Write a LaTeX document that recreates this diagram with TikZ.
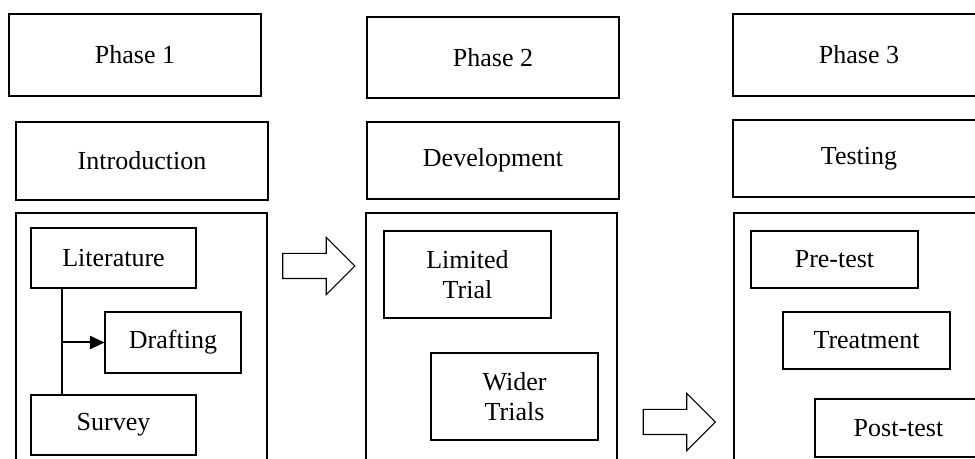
\documentclass[tikz,border=0pt]{standalone}
\usepackage{fontspec}
\setmainfont{Liberation Serif}
\usetikzlibrary{shapes.arrows,arrows.meta}

\begin{document}
\begin{tikzpicture}[x=0.75pt, y=-0.75pt,
every node/.style={font=\fontsize{19.5}{23}\selectfont},
box/.style={draw, line width=0.8pt, inner sep=0pt, align=center},
sz/.style 2 args={minimum width=#1*0.75pt, minimum height=#2*0.75pt},
blockarrow/.style={draw, line width=0.8pt, single arrow, inner xsep=0pt, inner ysep=9pt,
  single arrow head extend=12pt, minimum height=54pt}]
\useasboundingbox (0,0) rectangle (975,459);
% phase headers
\node[box, sz={252}{82}] (phaseA) at (135,55) {Phase 1};
\node[box, sz={252}{81}] (phaseB) at (493,57.5) {Phase 2};
\node[box, sz={252}{82}] (phaseC) at (859,55) {Phase 3};
\node[box, sz={252}{78}] (intro) at (142,161) {Introduction};
\node[box, sz={252}{77}] (devel) at (493,160.5) {Development};
\node[box, sz={252}{77}] (testing) at (859,158.5) {Testing};
% frames
\node[box, sz={251}{257}] (frameA) at (141.5,341.5) {};
\node[box, sz={251}{257}] (frameB) at (491.5,341.5) {};
\node[box, sz={251}{257}] (frameC) at (859.5,341.5) {};
% phase 1
\node[box, sz={165}{60}] (lit) at (113.5,258) {Literature};
\node[box, sz={136}{61}] (draft) at (173,342.5) {Drafting};
\node[box, sz={165}{60}] (survey) at (113.5,425) {Survey};
\coordinate (trunk) at (62,342.5);
\draw[line width=1.5pt] (lit.south -| trunk) -- (survey.north -| trunk);
\draw[line width=1.5pt, -{Triangle[length=11pt,width=10pt]}] (trunk) -- (draft.west);
% phase 2
\node[box, sz={167}{87}] (limited) at (467.5,274.5) {Limited\\Trial};
\node[box, sz={167}{87}] (wider) at (514.5,396.5) {Wider\\Trials};
% phase 3
\node[box, sz={167}{57}] (pre) at (834.5,259.5) {Pre-test};
\node[box, sz={167}{57}] (treat) at (866.5,340.5) {Treatment};
\node[box, sz={167}{58}] (post) at (898.5,428) {Post-test};
% block arrows
\node[blockarrow] (goA) at (312.5,266) {};
\node[blockarrow] (goB) at (673,422) {};
\end{tikzpicture}
\end{document}
